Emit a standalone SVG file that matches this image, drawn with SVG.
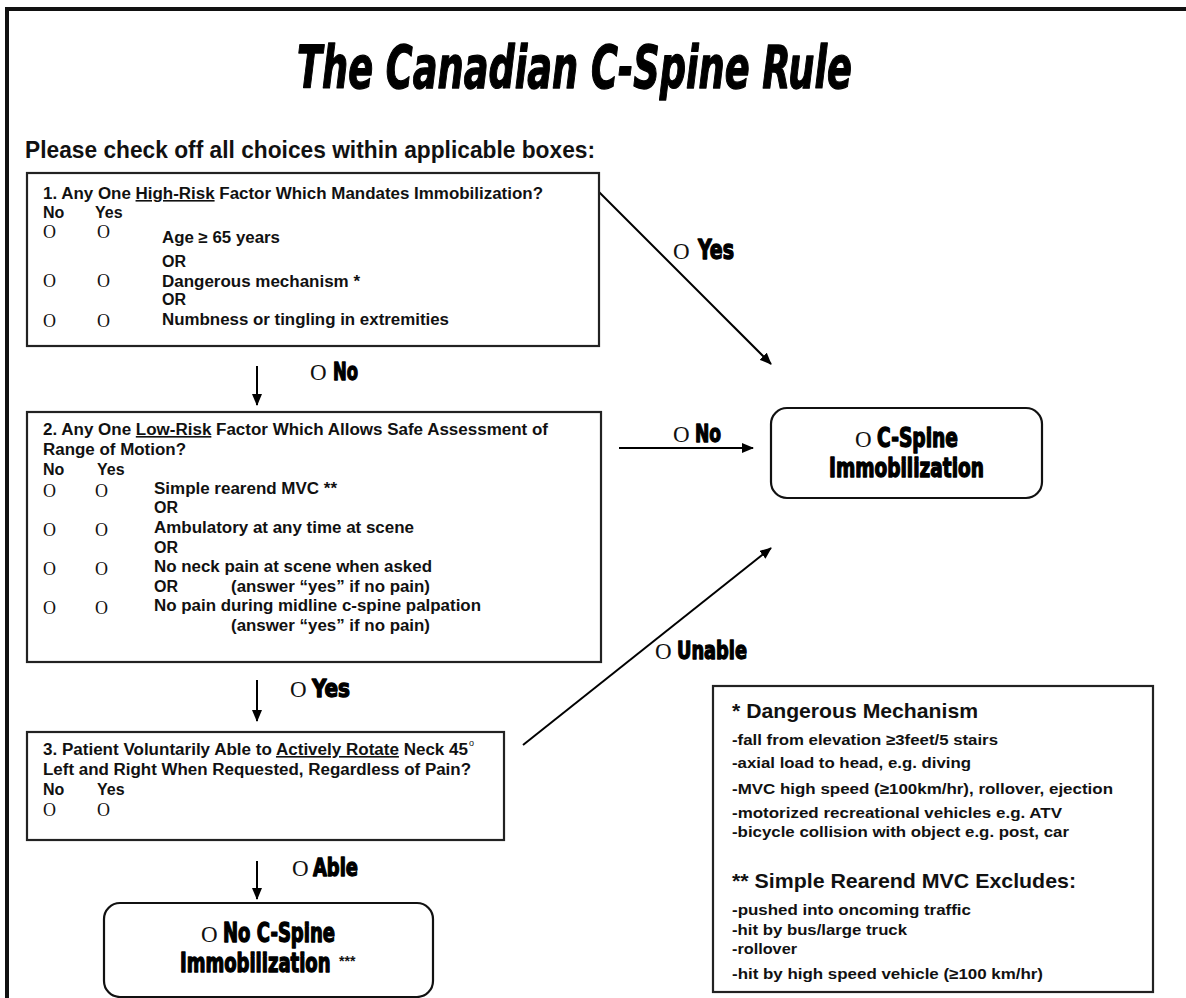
<svg xmlns="http://www.w3.org/2000/svg" width="1186" height="998" viewBox="0 0 1186 998">
<defs>
<style>
.box{fill:#fff;stroke:#222;stroke-width:2.2}
.node{fill:#fff;stroke:#111;stroke-width:2.2}
.t{font-family:"Liberation Sans",Arial,sans-serif;font-weight:bold;font-size:16px;fill:#111}
.lg{font-family:"Liberation Sans",Arial,sans-serif;font-weight:bold;font-size:15px;fill:#111}
.lh{font-family:"Liberation Sans",Arial,sans-serif;font-weight:bold;font-size:21px;fill:#111}
.o{font-family:"Liberation Serif","Times New Roman",serif;font-size:18px;fill:#111}
.lo{font-family:"Liberation Serif","Times New Roman",serif;font-size:23px;fill:#111}
.imp{font-family:"Liberation Sans Narrow","DejaVu Sans Condensed",sans-serif;font-weight:bold;fill:#000;stroke:#000;stroke-width:1.3;stroke-linejoin:round}
.star{font-family:"Liberation Sans",Arial,sans-serif;font-weight:bold;font-size:14px;fill:#111}
.conn{stroke:#000;stroke-width:2;fill:none}
.u{text-decoration:underline}
</style>
<marker id="ah" viewBox="0 0 12 10" refX="11" refY="5" markerWidth="12" markerHeight="10" markerUnits="userSpaceOnUse" orient="auto">
<path d="M0,0 L12,5 L0,10 Z" fill="#000"/>
</marker>
</defs>
<rect width="1186" height="998" fill="#fff"/>
<path d="M7,998 V9 H1186" fill="none" stroke="#111" stroke-width="4"/>

<g id="title">
<text x="297" y="88" class="imp" font-size="58" font-style="italic" stroke-width="2.8" textLength="555" lengthAdjust="spacingAndGlyphs">The Canadian C-Spine Rule</text>
<text x="25" y="158" class="t" style="font-size:23px" textLength="570" lengthAdjust="spacingAndGlyphs">Please check off all choices within applicable boxes:</text>
</g>

<g id="connectors">
<line class="conn" x1="599" y1="192" x2="771" y2="364" marker-end="url(#ah)"/>
<line class="conn" x1="257" y1="366" x2="257" y2="405" marker-end="url(#ah)"/>
<line class="conn" x1="619" y1="448" x2="753" y2="448" marker-end="url(#ah)"/>
<line class="conn" x1="257" y1="680" x2="257" y2="721" marker-end="url(#ah)"/>
<line class="conn" x1="523" y1="745" x2="771" y2="548" marker-end="url(#ah)"/>
<line class="conn" x1="257" y1="861" x2="257" y2="899" marker-end="url(#ah)"/>
<text x="673" y="259" class="lo">O</text><text x="698" y="259" class="imp" font-size="26" textLength="36" lengthAdjust="spacingAndGlyphs">Yes</text>
<text x="310" y="380" class="lo">O</text><text x="333" y="380" class="imp" font-size="25" textLength="25" lengthAdjust="spacingAndGlyphs">No</text>
<text x="673" y="442" class="lo">O</text><text x="695" y="442" class="imp" font-size="25" textLength="26" lengthAdjust="spacingAndGlyphs">No</text>
<text x="290" y="697" class="lo">O</text><text x="312" y="697" class="imp" font-size="25" textLength="38" lengthAdjust="spacingAndGlyphs">Yes</text>
<text x="655" y="659" class="lo">O</text><text x="677" y="659" class="imp" font-size="25" textLength="70" lengthAdjust="spacingAndGlyphs">Unable</text>
<text x="292" y="876" class="lo">O</text><text x="313" y="876" class="imp" font-size="25" textLength="45" lengthAdjust="spacingAndGlyphs">Able</text>
</g>

<g id="box1">
<rect class="box" x="27" y="173" width="572" height="173"/>
<text x="43" y="199" class="t" textLength="500" lengthAdjust="spacingAndGlyphs">1. Any One <tspan class="u">High-Risk</tspan> Factor Which Mandates Immobilization?</text>
<text x="43" y="218" class="t">No</text><text x="95" y="218" class="t">Yes</text>
<text x="43" y="238" class="o">O</text><text x="97" y="238" class="o">O</text>
<text x="162" y="243" class="t" textLength="118" lengthAdjust="spacingAndGlyphs">Age ≥ 65 years</text>
<text x="162" y="267" class="t">OR</text>
<text x="43" y="287" class="o">O</text><text x="97" y="287" class="o">O</text>
<text x="162" y="287" class="t" textLength="198" lengthAdjust="spacingAndGlyphs">Dangerous mechanism *</text>
<text x="162" y="305" class="t">OR</text>
<text x="43" y="327" class="o">O</text><text x="97" y="327" class="o">O</text>
<text x="162" y="325" class="t" textLength="287" lengthAdjust="spacingAndGlyphs">Numbness or tingling in extremities</text>
</g>

<g id="box2">
<rect class="box" x="27" y="412" width="574" height="250"/>
<text x="43" y="435" class="t" textLength="505" lengthAdjust="spacingAndGlyphs">2. Any One <tspan class="u">Low-Risk</tspan> Factor Which Allows Safe Assessment of</text>
<text x="43" y="455" class="t" textLength="143" lengthAdjust="spacingAndGlyphs">Range of Motion?</text>
<text x="43" y="475" class="t">No</text><text x="97" y="475" class="t">Yes</text>
<text x="43" y="497" class="o">O</text><text x="95" y="497" class="o">O</text>
<text x="154" y="494" class="t" textLength="183" lengthAdjust="spacingAndGlyphs">Simple rearend MVC **</text>
<text x="154" y="513" class="t">OR</text>
<text x="43" y="536" class="o">O</text><text x="95" y="536" class="o">O</text>
<text x="154" y="533" class="t" textLength="260" lengthAdjust="spacingAndGlyphs">Ambulatory at any time at scene</text>
<text x="154" y="553" class="t">OR</text>
<text x="43" y="575" class="o">O</text><text x="95" y="575" class="o">O</text>
<text x="154" y="572" class="t" textLength="278" lengthAdjust="spacingAndGlyphs">No neck pain at scene when asked</text>
<text x="154" y="592" class="t">OR</text>
<text x="231" y="592" class="t" textLength="199" lengthAdjust="spacingAndGlyphs">(answer “yes” if no pain)</text>
<text x="43" y="614" class="o">O</text><text x="95" y="614" class="o">O</text>
<text x="154" y="611" class="t" textLength="327" lengthAdjust="spacingAndGlyphs">No pain during midline c-spine palpation</text>
<text x="231" y="631" class="t" textLength="199" lengthAdjust="spacingAndGlyphs">(answer “yes” if no pain)</text>
</g>

<g id="box3">
<rect class="box" x="27" y="732" width="477" height="108"/>
<text x="43" y="755" class="t" textLength="425" lengthAdjust="spacingAndGlyphs">3. Patient Voluntarily Able to <tspan class="u">Actively Rotate</tspan> Neck 45</text>
<text x="469" y="746" font-family="Liberation Sans, Arial, sans-serif" font-size="9" fill="#111">o</text>
<text x="43" y="775" class="t" textLength="428" lengthAdjust="spacingAndGlyphs">Left and Right When Requested, Regardless of Pain?</text>
<text x="43" y="795" class="t">No</text><text x="97" y="795" class="t">Yes</text>
<text x="43" y="816" class="o">O</text><text x="97" y="816" class="o">O</text>
</g>

<g id="cspine">
<rect class="node" x="771" y="408" width="271" height="90" rx="16"/>
<text x="855" y="447" class="lo">O</text>
<text x="877" y="447" class="imp" font-size="26" textLength="81" lengthAdjust="spacingAndGlyphs">C-Spine</text>
<text x="829" y="477" class="imp" font-size="26" textLength="155" lengthAdjust="spacingAndGlyphs">Immobilization</text>
</g>

<g id="nocspine">
<rect class="node" x="104" y="903" width="329" height="94" rx="16"/>
<text x="201" y="942" class="lo">O</text>
<text x="223" y="942" class="imp" font-size="26" textLength="112" lengthAdjust="spacingAndGlyphs">No C-Spine</text>
<text transform="translate(180,972) scale(0.77,1)" class="imp" font-size="26">Immobilization</text>
<text x="339" y="966" class="star">***</text>
</g>

<g id="legend">
<rect class="box" x="713" y="686" width="440" height="306"/>
<text x="732" y="718" class="lh" textLength="246" lengthAdjust="spacingAndGlyphs">* Dangerous Mechanism</text>
<text x="732" y="745" class="lg" textLength="266" lengthAdjust="spacingAndGlyphs">-fall from elevation ≥3feet/5 stairs</text>
<text x="732" y="768" class="lg" textLength="239" lengthAdjust="spacingAndGlyphs">-axial load to head, e.g. diving</text>
<text x="732" y="794" class="lg" textLength="381" lengthAdjust="spacingAndGlyphs">-MVC high speed (≥100km/hr), rollover, ejection</text>
<text x="732" y="818" class="lg" textLength="330" lengthAdjust="spacingAndGlyphs">-motorized recreational vehicles e.g. ATV</text>
<text x="732" y="837" class="lg" textLength="337" lengthAdjust="spacingAndGlyphs">-bicycle collision with object e.g. post, car</text>
<text x="732" y="888" class="lh" textLength="344" lengthAdjust="spacingAndGlyphs">** Simple Rearend MVC Excludes:</text>
<text x="732" y="915" class="lg" textLength="239" lengthAdjust="spacingAndGlyphs">-pushed into oncoming traffic</text>
<text x="732" y="935" class="lg" textLength="175" lengthAdjust="spacingAndGlyphs">-hit by bus/large truck</text>
<text x="732" y="954" class="lg" textLength="65" lengthAdjust="spacingAndGlyphs">-rollover</text>
<text x="732" y="979" class="lg" textLength="311" lengthAdjust="spacingAndGlyphs">-hit by high speed vehicle (≥100 km/hr)</text>
</g>
</svg>
